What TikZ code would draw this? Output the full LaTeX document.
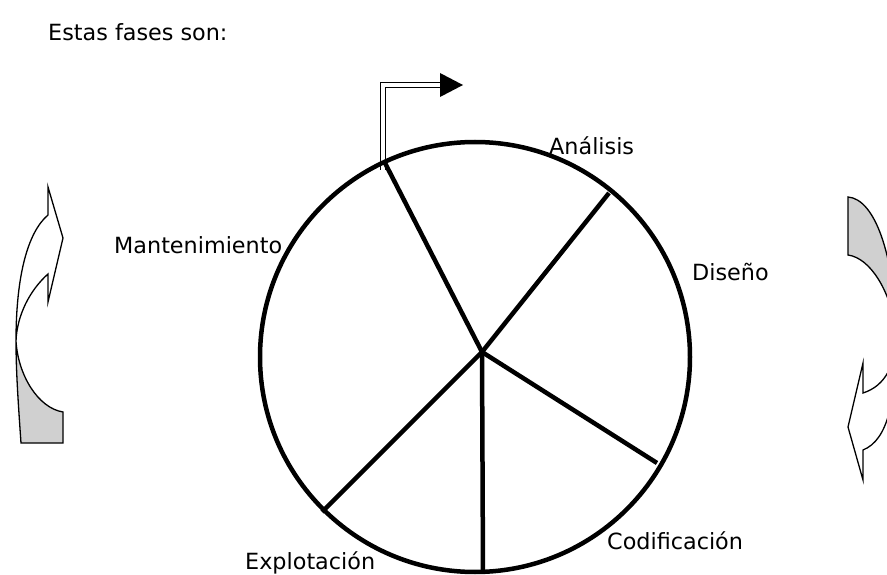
\documentclass[tikz,border=0pt]{standalone}
\usepackage{fontspec}
\setmainfont{DejaVu Sans}
\usetikzlibrary{arrows.meta,positioning}
\definecolor{sombra}{RGB}{208,208,208}
\tikzset{
  fase/.style={inner sep=0pt,anchor=base west,font=\fontsize{22.3}{26}\selectfont},
  radio/.style={line width=4.5pt},
  giro/.style={line width=1.3pt,line join=miter},
  doble/.style={line width=1.3pt,double=white,double distance=3.3pt},
}
\begin{document}
\begin{tikzpicture}[x=1pt,y=-1pt]
\useasboundingbox (0,0) rectangle (887,575);
\clip (0,0) rectangle (887,575);
\node[fase] (titulo) at (48,41) {Estas fases son:};
% rueda
\coordinate (centro) at (475,357);
\coordinate (eje) at (482,352);
\coordinate (r1) at (385,163);
\coordinate (r2) at (609,193);
\coordinate (r3) at (657,463);
\coordinate (r4) at (483,573);
\coordinate (r5) at (322,512);
\coordinate (base) at (383,170);
\coordinate (punta) at (440,85);
\draw[doble] (base) |- (punta);
\fill (440,73) -- (463,85) -- (440,97) -- cycle;
\draw[radio] (centro) circle (215);
\foreach \r in {r1,r2,r3,r4,r5}
  \draw[radio] (eje) -- (\r);
\node[fase] (analisis) at (549,155) {Análisis};
\node[fase] (mant) at (114,253) {Mantenimiento};
\node[fase] (diseno) at (692,280) {Diseño};
\node[fase] (codif) at (607,549) {Codificación};
\node[fase] (explot) at (245,569) {Explotación};
% flecha izquierda
\filldraw[giro,fill=white] (16,341) .. controls (16,275) and (28,232) .. (48,215)
  -- (48,187) -- (63,238) -- (48,302) -- (48,274)
  .. controls (30,290) and (17,315) .. (16,341) -- cycle;
\filldraw[giro,fill=sombra] (16,341) .. controls (18,375) and (38,408) .. (63,412)
  -- (63,443) -- (21,443) .. controls (18,400) and (16,370) .. (16,341) -- cycle;
% flecha derecha
\filldraw[giro,fill=sombra] (848,197) .. controls (875,199) and (894,255) .. (896,330)
  .. controls (890,290) and (870,258) .. (848,255) -- cycle;
\filldraw[giro,fill=white] (896,330) .. controls (897,365) and (885,386) .. (863,393)
  -- (863,363) -- (848,427) -- (863,480) -- (863,450)
  .. controls (888,440) and (897,400) .. (896,330) -- cycle;
\end{tikzpicture}
\end{document}
